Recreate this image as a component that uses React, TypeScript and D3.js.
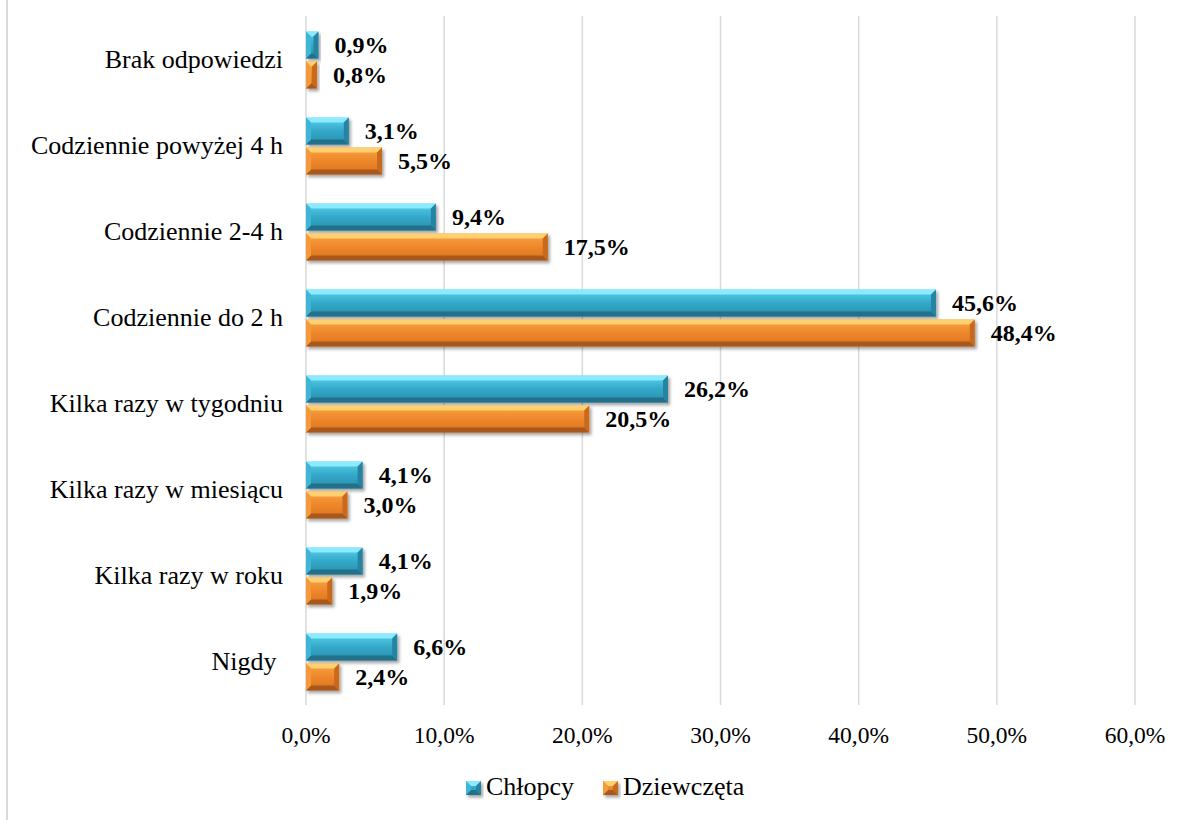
import React, { useEffect } from 'react';
import * as d3 from 'd3';

// categories top -> bottom
const categories = [
  'Brak odpowiedzi',
  'Codziennie powyżej 4 h',
  'Codziennie 2-4 h',
  'Codziennie do 2 h',
  'Kilka razy w tygodniu',
  'Kilka razy w miesiącu',
  'Kilka razy w roku',
  'Nigdy ',
];
const seriesNames = ['Chłopcy', 'Dziewczęta'];
const boys = [0.9, 3.1, 9.4, 45.6, 26.2, 4.1, 4.1, 6.6];
const girls = [0.8, 5.5, 17.5, 48.4, 20.5, 3.0, 1.9, 2.4];
const xTicks = [0, 10, 20, 30, 40, 50, 60];

const W = 1183;
const H = 820;
const FONT = '"Liberation Serif", "Times New Roman", serif';

const pal: Record<string, any> = {
  Chłopcy: {
    id: 'blue', top: '#8aeaff', bottom: '#22708a', left: '#40b6d6', right: '#2684a2',
    g: ['#5cd0ee', '#32a8c8', '#2b8eac'],
  },
  Dziewczęta: {
    id: 'orange', top: '#ffd070', bottom: '#a8581a', left: '#f49a3a', right: '#c8691f',
    g: ['#f9a444', '#ee872b', '#da741f'],
  },
};

const pl = d3.formatLocale({ decimal: ',', thousands: ' ', grouping: [3], currency: ['', ' zł'] });
const f1 = pl.format('.1f');

function Bevel({ x, y, w, h, s }: { x: number; y: number; w: number; h: number; s: string }) {
  const c = pal[s];
  const d = Math.max(0, Math.min(5, h / 2, w / 2));
  const pts = (a: number[][]) => a.map(p => `${x + p[0]},${y + p[1]}`).join(' ');
  return (
    <g filter="url(#shadow)">
      <rect x={x} y={y} width={w} height={h} fill={`url(#grad-${c.id})`} />
      <polygon points={pts([[0, 0], [w, 0], [w - d, d], [d, d]])} fill={c.top} />
      <polygon points={pts([[0, h], [w, h], [w - d, h - d], [d, h - d]])} fill={c.bottom} />
      <polygon points={pts([[0, 0], [d, d], [d, h - d], [0, h]])} fill={c.left} />
      <polygon points={pts([[w, 0], [w - d, d], [w - d, h - d], [w, h]])} fill={c.right} />
    </g>
  );
}

export default function App() {
  useEffect(() => {
    document.body.style.margin = '0';
  }, []);

  const x = d3.scaleLinear().domain([0, 60]).range([306, 1135]);
  const y = d3.scaleBand<string>().domain(categories).range([17, 705]).paddingInner(0.34).paddingOuter(0.17);
  const ys = d3.scaleBand<string>().domain(seriesNames).range([0, y.bandwidth()]).paddingInner(0.1);

  const rows = categories.map((c, i) => ({ c, vals: [boys[i], girls[i]] }));

  return (
    <svg width={W} height={H} style={{ display: 'block', background: '#fff' }} fontFamily={FONT}>
      <defs>
        {seriesNames.map(s => (
          <linearGradient key={s} id={`grad-${pal[s].id}`} x1="0" y1="0" x2="0" y2="1">
            <stop offset="0" stopColor={pal[s].g[0]} />
            <stop offset="0.5" stopColor={pal[s].g[1]} />
            <stop offset="1" stopColor={pal[s].g[2]} />
          </linearGradient>
        ))}
        <filter id="shadow" x="-20%" y="-20%" width="140%" height="160%">
          <feDropShadow dx="2" dy="2.5" stdDeviation="1.8" floodColor="#000" floodOpacity="0.35" />
        </filter>
      </defs>

      {/* chart border (left edge visible) */}
      <line x1={7} x2={7} y1={0} y2={H} stroke="#d9d9d9" strokeWidth={2} />

      {/* gridlines */}
      {xTicks.map(t => (
        <line key={t} x1={x(t)} x2={x(t)} y1={16} y2={705} stroke="#d9d9d9" strokeWidth={1.5} />
      ))}

      {/* tick labels */}
      {xTicks.map(t => (
        <text key={t} x={x(t)} y={743} textAnchor="middle" fontSize={23.5} fill="#000">
          {f1(t) + '%'}
        </text>
      ))}

      {/* category labels */}
      {categories.map(c => (
        <text key={c} x={283} y={(y(c) as number) + y.bandwidth() / 2 + 7.5} textAnchor="end" fontSize={26} fill="#000" style={{ whiteSpace: 'pre' }}>
          {c}
        </text>
      ))}

      {/* bars */}
      {rows.map(r => (
        <g key={r.c}>
          {seriesNames.map((s, j) => {
            const v = r.vals[j];
            const by = (y(r.c) as number) + (ys(s) as number);
            const bh = ys.bandwidth();
            return (
              <g key={s}>
                <Bevel x={x(0)} y={by} w={x(v) - x(0)} h={bh} s={s} />
                <text x={x(v) + 16} y={by + bh / 2 + 8} fontSize={24} fontWeight="bold" fill="#000">
                  {f1(v) + '%'}
                </text>
              </g>
            );
          })}
        </g>
      ))}

      {/* legend */}
      {seriesNames.map((s, i) => {
        const lx = i === 0 ? 466 : 603;
        return (
          <g key={s}>
            <Bevel x={lx} y={781} w={15} h={14} s={s} />
            <text x={lx + 20} y={795} fontSize={26} fill="#000">
              {s}
            </text>
          </g>
        );
      })}
    </svg>
  );
}
